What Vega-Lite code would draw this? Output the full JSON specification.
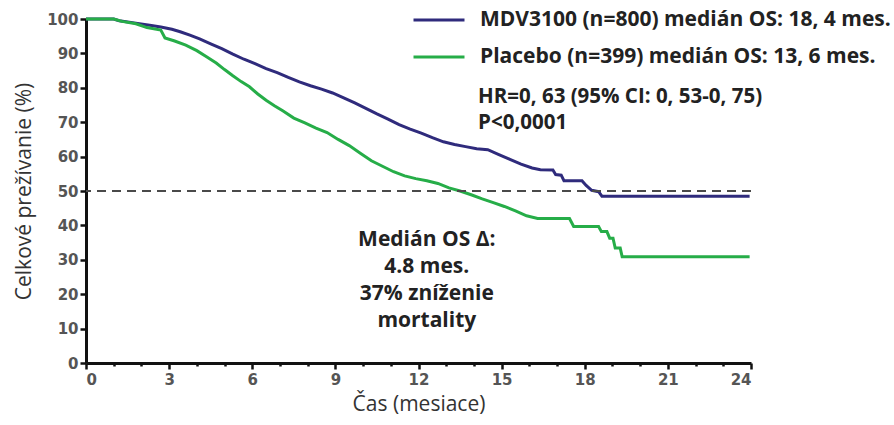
{
  "$schema": "https://vega.github.io/schema/vega-lite/v6.json",
  "width": 665,
  "height": 344,
  "autosize": {"type": "none"},
  "padding": {"left": 86, "top": 19, "right": 143, "bottom": 62},
  "background": "white",
  "config": {
    "view": {"stroke": null},
    "font": "Open Sans",
    "axis": {
      "titleFont": "Open Sans", "titleFontSize": 21, "titleFontWeight": "normal", "titleColor": "#333333",
      "labelFont": "DejaVu Sans", "labelFontSize": 15, "labelFontWeight": "bold", "labelColor": "#555555",
      "labelOverlap": false,
      "domainColor": "#111111", "domainWidth": 3,
      "tickColor": "#111111", "tickWidth": 2.5,
      "grid": false
    },
    "axisX": {"titlePadding": 6, "labelPadding": 3},
    "axisY": {"titlePadding": 12, "labelPadding": 2, "tickSize": 6}
  },
  "datasets": {
    "km": [
      {"group": "MDV3100 (n=800) medián OS: 18, 4 mes.", "month": 0, "survival": 100},
      {"group": "MDV3100 (n=800) medián OS: 18, 4 mes.", "month": 1.0, "survival": 100},
      {"group": "MDV3100 (n=800) medián OS: 18, 4 mes.", "month": 1.2, "survival": 99.5},
      {"group": "MDV3100 (n=800) medián OS: 18, 4 mes.", "month": 1.8, "survival": 98.8},
      {"group": "MDV3100 (n=800) medián OS: 18, 4 mes.", "month": 2.3, "survival": 98.2},
      {"group": "MDV3100 (n=800) medián OS: 18, 4 mes.", "month": 2.7, "survival": 97.7},
      {"group": "MDV3100 (n=800) medián OS: 18, 4 mes.", "month": 3.1, "survival": 97.0},
      {"group": "MDV3100 (n=800) medián OS: 18, 4 mes.", "month": 3.4, "survival": 96.3},
      {"group": "MDV3100 (n=800) medián OS: 18, 4 mes.", "month": 3.75, "survival": 95.3},
      {"group": "MDV3100 (n=800) medián OS: 18, 4 mes.", "month": 4.1, "survival": 94.2},
      {"group": "MDV3100 (n=800) medián OS: 18, 4 mes.", "month": 4.5, "survival": 92.8},
      {"group": "MDV3100 (n=800) medián OS: 18, 4 mes.", "month": 4.9, "survival": 91.4},
      {"group": "MDV3100 (n=800) medián OS: 18, 4 mes.", "month": 5.3, "survival": 89.8},
      {"group": "MDV3100 (n=800) medián OS: 18, 4 mes.", "month": 5.7, "survival": 88.3},
      {"group": "MDV3100 (n=800) medián OS: 18, 4 mes.", "month": 6.1, "survival": 87.0},
      {"group": "MDV3100 (n=800) medián OS: 18, 4 mes.", "month": 6.5, "survival": 85.6},
      {"group": "MDV3100 (n=800) medián OS: 18, 4 mes.", "month": 6.9, "survival": 84.4},
      {"group": "MDV3100 (n=800) medián OS: 18, 4 mes.", "month": 7.3, "survival": 83.0},
      {"group": "MDV3100 (n=800) medián OS: 18, 4 mes.", "month": 7.7, "survival": 81.7},
      {"group": "MDV3100 (n=800) medián OS: 18, 4 mes.", "month": 8.1, "survival": 80.6},
      {"group": "MDV3100 (n=800) medián OS: 18, 4 mes.", "month": 8.5, "survival": 79.6},
      {"group": "MDV3100 (n=800) medián OS: 18, 4 mes.", "month": 8.9, "survival": 78.5},
      {"group": "MDV3100 (n=800) medián OS: 18, 4 mes.", "month": 9.3, "survival": 77.1},
      {"group": "MDV3100 (n=800) medián OS: 18, 4 mes.", "month": 9.7, "survival": 75.6},
      {"group": "MDV3100 (n=800) medián OS: 18, 4 mes.", "month": 10.1, "survival": 74.0},
      {"group": "MDV3100 (n=800) medián OS: 18, 4 mes.", "month": 10.5, "survival": 72.4},
      {"group": "MDV3100 (n=800) medián OS: 18, 4 mes.", "month": 10.9, "survival": 70.9},
      {"group": "MDV3100 (n=800) medián OS: 18, 4 mes.", "month": 11.3, "survival": 69.3},
      {"group": "MDV3100 (n=800) medián OS: 18, 4 mes.", "month": 11.7, "survival": 68.0},
      {"group": "MDV3100 (n=800) medián OS: 18, 4 mes.", "month": 12.1, "survival": 66.8},
      {"group": "MDV3100 (n=800) medián OS: 18, 4 mes.", "month": 12.5, "survival": 65.5},
      {"group": "MDV3100 (n=800) medián OS: 18, 4 mes.", "month": 12.9, "survival": 64.3},
      {"group": "MDV3100 (n=800) medián OS: 18, 4 mes.", "month": 13.3, "survival": 63.5},
      {"group": "MDV3100 (n=800) medián OS: 18, 4 mes.", "month": 13.7, "survival": 62.9},
      {"group": "MDV3100 (n=800) medián OS: 18, 4 mes.", "month": 14.1, "survival": 62.3},
      {"group": "MDV3100 (n=800) medián OS: 18, 4 mes.", "month": 14.5, "survival": 62.0},
      {"group": "MDV3100 (n=800) medián OS: 18, 4 mes.", "month": 14.9, "survival": 60.6},
      {"group": "MDV3100 (n=800) medián OS: 18, 4 mes.", "month": 15.3, "survival": 59.2},
      {"group": "MDV3100 (n=800) medián OS: 18, 4 mes.", "month": 15.7, "survival": 57.8},
      {"group": "MDV3100 (n=800) medián OS: 18, 4 mes.", "month": 16.1, "survival": 56.7},
      {"group": "MDV3100 (n=800) medián OS: 18, 4 mes.", "month": 16.4, "survival": 56.2},
      {"group": "MDV3100 (n=800) medián OS: 18, 4 mes.", "month": 16.85, "survival": 56.1},
      {"group": "MDV3100 (n=800) medián OS: 18, 4 mes.", "month": 16.95, "survival": 54.8},
      {"group": "MDV3100 (n=800) medián OS: 18, 4 mes.", "month": 17.15, "survival": 54.6},
      {"group": "MDV3100 (n=800) medián OS: 18, 4 mes.", "month": 17.25, "survival": 53.0},
      {"group": "MDV3100 (n=800) medián OS: 18, 4 mes.", "month": 17.9, "survival": 53.0},
      {"group": "MDV3100 (n=800) medián OS: 18, 4 mes.", "month": 18.05, "survival": 51.6},
      {"group": "MDV3100 (n=800) medián OS: 18, 4 mes.", "month": 18.25, "survival": 50.2},
      {"group": "MDV3100 (n=800) medián OS: 18, 4 mes.", "month": 18.5, "survival": 49.8},
      {"group": "MDV3100 (n=800) medián OS: 18, 4 mes.", "month": 18.62, "survival": 48.5},
      {"group": "MDV3100 (n=800) medián OS: 18, 4 mes.", "month": 23.95, "survival": 48.5},
      {"group": "Placebo (n=399) medián OS: 13, 6 mes.", "month": 0, "survival": 100},
      {"group": "Placebo (n=399) medián OS: 13, 6 mes.", "month": 1.0, "survival": 100},
      {"group": "Placebo (n=399) medián OS: 13, 6 mes.", "month": 1.3, "survival": 99.3},
      {"group": "Placebo (n=399) medián OS: 13, 6 mes.", "month": 1.8, "survival": 98.6},
      {"group": "Placebo (n=399) medián OS: 13, 6 mes.", "month": 2.2, "survival": 97.5},
      {"group": "Placebo (n=399) medián OS: 13, 6 mes.", "month": 2.7, "survival": 96.8},
      {"group": "Placebo (n=399) medián OS: 13, 6 mes.", "month": 2.85, "survival": 94.5},
      {"group": "Placebo (n=399) medián OS: 13, 6 mes.", "month": 3.2, "survival": 93.6},
      {"group": "Placebo (n=399) medián OS: 13, 6 mes.", "month": 3.6, "survival": 92.4},
      {"group": "Placebo (n=399) medián OS: 13, 6 mes.", "month": 4.0, "survival": 90.8},
      {"group": "Placebo (n=399) medián OS: 13, 6 mes.", "month": 4.35, "survival": 89.0},
      {"group": "Placebo (n=399) medián OS: 13, 6 mes.", "month": 4.7, "survival": 87.2},
      {"group": "Placebo (n=399) medián OS: 13, 6 mes.", "month": 5.0, "survival": 85.3},
      {"group": "Placebo (n=399) medián OS: 13, 6 mes.", "month": 5.3, "survival": 83.5},
      {"group": "Placebo (n=399) medián OS: 13, 6 mes.", "month": 5.6, "survival": 81.8},
      {"group": "Placebo (n=399) medián OS: 13, 6 mes.", "month": 5.9, "survival": 80.3},
      {"group": "Placebo (n=399) medián OS: 13, 6 mes.", "month": 6.2, "survival": 78.2},
      {"group": "Placebo (n=399) medián OS: 13, 6 mes.", "month": 6.5, "survival": 76.4},
      {"group": "Placebo (n=399) medián OS: 13, 6 mes.", "month": 6.8, "survival": 74.8},
      {"group": "Placebo (n=399) medián OS: 13, 6 mes.", "month": 7.1, "survival": 73.3},
      {"group": "Placebo (n=399) medián OS: 13, 6 mes.", "month": 7.5, "survival": 71.2},
      {"group": "Placebo (n=399) medián OS: 13, 6 mes.", "month": 7.9, "survival": 69.8},
      {"group": "Placebo (n=399) medián OS: 13, 6 mes.", "month": 8.3, "survival": 68.3},
      {"group": "Placebo (n=399) medián OS: 13, 6 mes.", "month": 8.7, "survival": 67.0},
      {"group": "Placebo (n=399) medián OS: 13, 6 mes.", "month": 9.1, "survival": 65.0},
      {"group": "Placebo (n=399) medián OS: 13, 6 mes.", "month": 9.5, "survival": 63.2},
      {"group": "Placebo (n=399) medián OS: 13, 6 mes.", "month": 9.9, "survival": 61.0},
      {"group": "Placebo (n=399) medián OS: 13, 6 mes.", "month": 10.3, "survival": 58.8},
      {"group": "Placebo (n=399) medián OS: 13, 6 mes.", "month": 10.7, "survival": 57.2},
      {"group": "Placebo (n=399) medián OS: 13, 6 mes.", "month": 11.1, "survival": 55.6},
      {"group": "Placebo (n=399) medián OS: 13, 6 mes.", "month": 11.5, "survival": 54.4},
      {"group": "Placebo (n=399) medián OS: 13, 6 mes.", "month": 11.9, "survival": 53.6},
      {"group": "Placebo (n=399) medián OS: 13, 6 mes.", "month": 12.3, "survival": 53.0},
      {"group": "Placebo (n=399) medián OS: 13, 6 mes.", "month": 12.7, "survival": 52.2},
      {"group": "Placebo (n=399) medián OS: 13, 6 mes.", "month": 13.1, "survival": 50.9},
      {"group": "Placebo (n=399) medián OS: 13, 6 mes.", "month": 13.5, "survival": 50.0},
      {"group": "Placebo (n=399) medián OS: 13, 6 mes.", "month": 13.9, "survival": 48.9},
      {"group": "Placebo (n=399) medián OS: 13, 6 mes.", "month": 14.3, "survival": 47.7},
      {"group": "Placebo (n=399) medián OS: 13, 6 mes.", "month": 14.7, "survival": 46.6},
      {"group": "Placebo (n=399) medián OS: 13, 6 mes.", "month": 15.1, "survival": 45.5},
      {"group": "Placebo (n=399) medián OS: 13, 6 mes.", "month": 15.5, "survival": 44.2},
      {"group": "Placebo (n=399) medián OS: 13, 6 mes.", "month": 15.9, "survival": 42.8},
      {"group": "Placebo (n=399) medián OS: 13, 6 mes.", "month": 16.3, "survival": 42.0},
      {"group": "Placebo (n=399) medián OS: 13, 6 mes.", "month": 17.45, "survival": 42.0},
      {"group": "Placebo (n=399) medián OS: 13, 6 mes.", "month": 17.6, "survival": 39.7},
      {"group": "Placebo (n=399) medián OS: 13, 6 mes.", "month": 18.5, "survival": 39.7},
      {"group": "Placebo (n=399) medián OS: 13, 6 mes.", "month": 18.6, "survival": 38.2},
      {"group": "Placebo (n=399) medián OS: 13, 6 mes.", "month": 18.8, "survival": 38.2},
      {"group": "Placebo (n=399) medián OS: 13, 6 mes.", "month": 18.9, "survival": 36.3},
      {"group": "Placebo (n=399) medián OS: 13, 6 mes.", "month": 19.02, "survival": 36.3},
      {"group": "Placebo (n=399) medián OS: 13, 6 mes.", "month": 19.1, "survival": 33.4},
      {"group": "Placebo (n=399) medián OS: 13, 6 mes.", "month": 19.28, "survival": 33.4},
      {"group": "Placebo (n=399) medián OS: 13, 6 mes.", "month": 19.35, "survival": 30.9},
      {"group": "Placebo (n=399) medián OS: 13, 6 mes.", "month": 23.95, "survival": 30.9}
    ]
  },
  "layer": [
    {
      "data": {"name": "km"},
      "mark": {"type": "line", "interpolate": "linear", "strokeWidth": 3},
      "encoding": {
        "x": {
          "field": "month", "type": "quantitative",
          "scale": {"domain": [0, 24], "nice": false, "zero": false},
          "axis": {
            "title": "Čas (mesiace)",
            "values": [0,1,2,3,4,5,6,7,8,9,10,11,12,13,14,15,16,17,18,19,20,21,22,23,24],
            "labelExpr": "datum.value % 3 == 0 ? datum.label : ''",
            "labelOverlap": false,
            "tickSize": {"condition": {"test": "datum.value % 3 == 0", "value": 6}, "value": 3}
          }
        },
        "y": {
          "field": "survival", "type": "quantitative",
          "scale": {"domain": [0, 100], "nice": false},
          "axis": {
            "title": "Celkové prežívanie (%)",
            "values": [0,10,20,30,40,50,60,70,80,90,100],
            "labelOverlap": false
          }
        },
        "color": {
          "field": "group", "type": "nominal",
          "scale": {
            "domain": ["MDV3100 (n=800) medián OS: 18, 4 mes.", "Placebo (n=399) medián OS: 13, 6 mes."],
            "range": ["#2f2b7c", "#26ad48"]
          },
          "legend": {
            "title": null,
            "orient": "none",
            "legendX": 326,
            "legendY": -26,
            "symbolType": "stroke",
            "symbolSize": 2600,
            "symbolStrokeWidth": 3,
            "labelFont": "Open Sans",
            "labelFontSize": 21,
            "labelFontWeight": "bold",
            "labelColor": "#222222",
            "labelLimit": 0,
            "labelOffset": 14,
            "rowPadding": -2
          }
        }
      }
    },
    {
      "data": {"values": [{}]},
      "mark": {"type": "rule", "color": "#4a4a4a", "strokeWidth": 2, "strokeDash": [9, 6]},
      "encoding": {
        "y": {
          "datum": 50, "type": "quantitative",
          "axis": {
            "title": "Celkové prežívanie (%)",
            "values": [0,10,20,30,40,50,60,70,80,90,100],
            "labelOverlap": false
          }
        }
      }
    },
    {
      "data": {"values": [{}]},
      "mark": {
        "type": "text",
        "text": ["HR=0, 63 (95% CI: 0, 53-0, 75)", "P<0,0001"],
        "lineHeight": 26,
        "align": "left",
        "baseline": "top",
        "font": "Open Sans",
        "fontSize": 20.5,
        "fontWeight": "bold",
        "color": "#222222"
      },
      "encoding": {
        "x": {
          "datum": 14.15, "type": "quantitative",
          "axis": {
            "title": "Čas (mesiace)",
            "values": [0,1,2,3,4,5,6,7,8,9,10,11,12,13,14,15,16,17,18,19,20,21,22,23,24],
            "labelExpr": "datum.value % 3 == 0 ? datum.label : ''",
            "labelOverlap": false,
            "tickSize": {"condition": {"test": "datum.value % 3 == 0", "value": 6}, "value": 3}
          }
        },
        "y": {
          "datum": 80.2, "type": "quantitative",
          "axis": {
            "title": "Celkové prežívanie (%)",
            "values": [0,10,20,30,40,50,60,70,80,90,100],
            "labelOverlap": false
          }
        }
      }
    },
    {
      "data": {"values": [{}]},
      "mark": {
        "type": "text",
        "text": ["Medián OS Δ:", "4.8 mes.", "37% zníženie", "mortality"],
        "lineHeight": 27,
        "align": "center",
        "baseline": "top",
        "font": "Open Sans",
        "fontSize": 21,
        "fontWeight": "bold",
        "color": "#222222"
      },
      "encoding": {
        "x": {
          "datum": 12.3, "type": "quantitative",
          "axis": {
            "title": "Čas (mesiace)",
            "values": [0,1,2,3,4,5,6,7,8,9,10,11,12,13,14,15,16,17,18,19,20,21,22,23,24],
            "labelExpr": "datum.value % 3 == 0 ? datum.label : ''",
            "labelOverlap": false,
            "tickSize": {"condition": {"test": "datum.value % 3 == 0", "value": 6}, "value": 3}
          }
        },
        "y": {
          "datum": 39.0, "type": "quantitative",
          "axis": {
            "title": "Celkové prežívanie (%)",
            "values": [0,10,20,30,40,50,60,70,80,90,100],
            "labelOverlap": false
          }
        }
      }
    }
  ]
}
